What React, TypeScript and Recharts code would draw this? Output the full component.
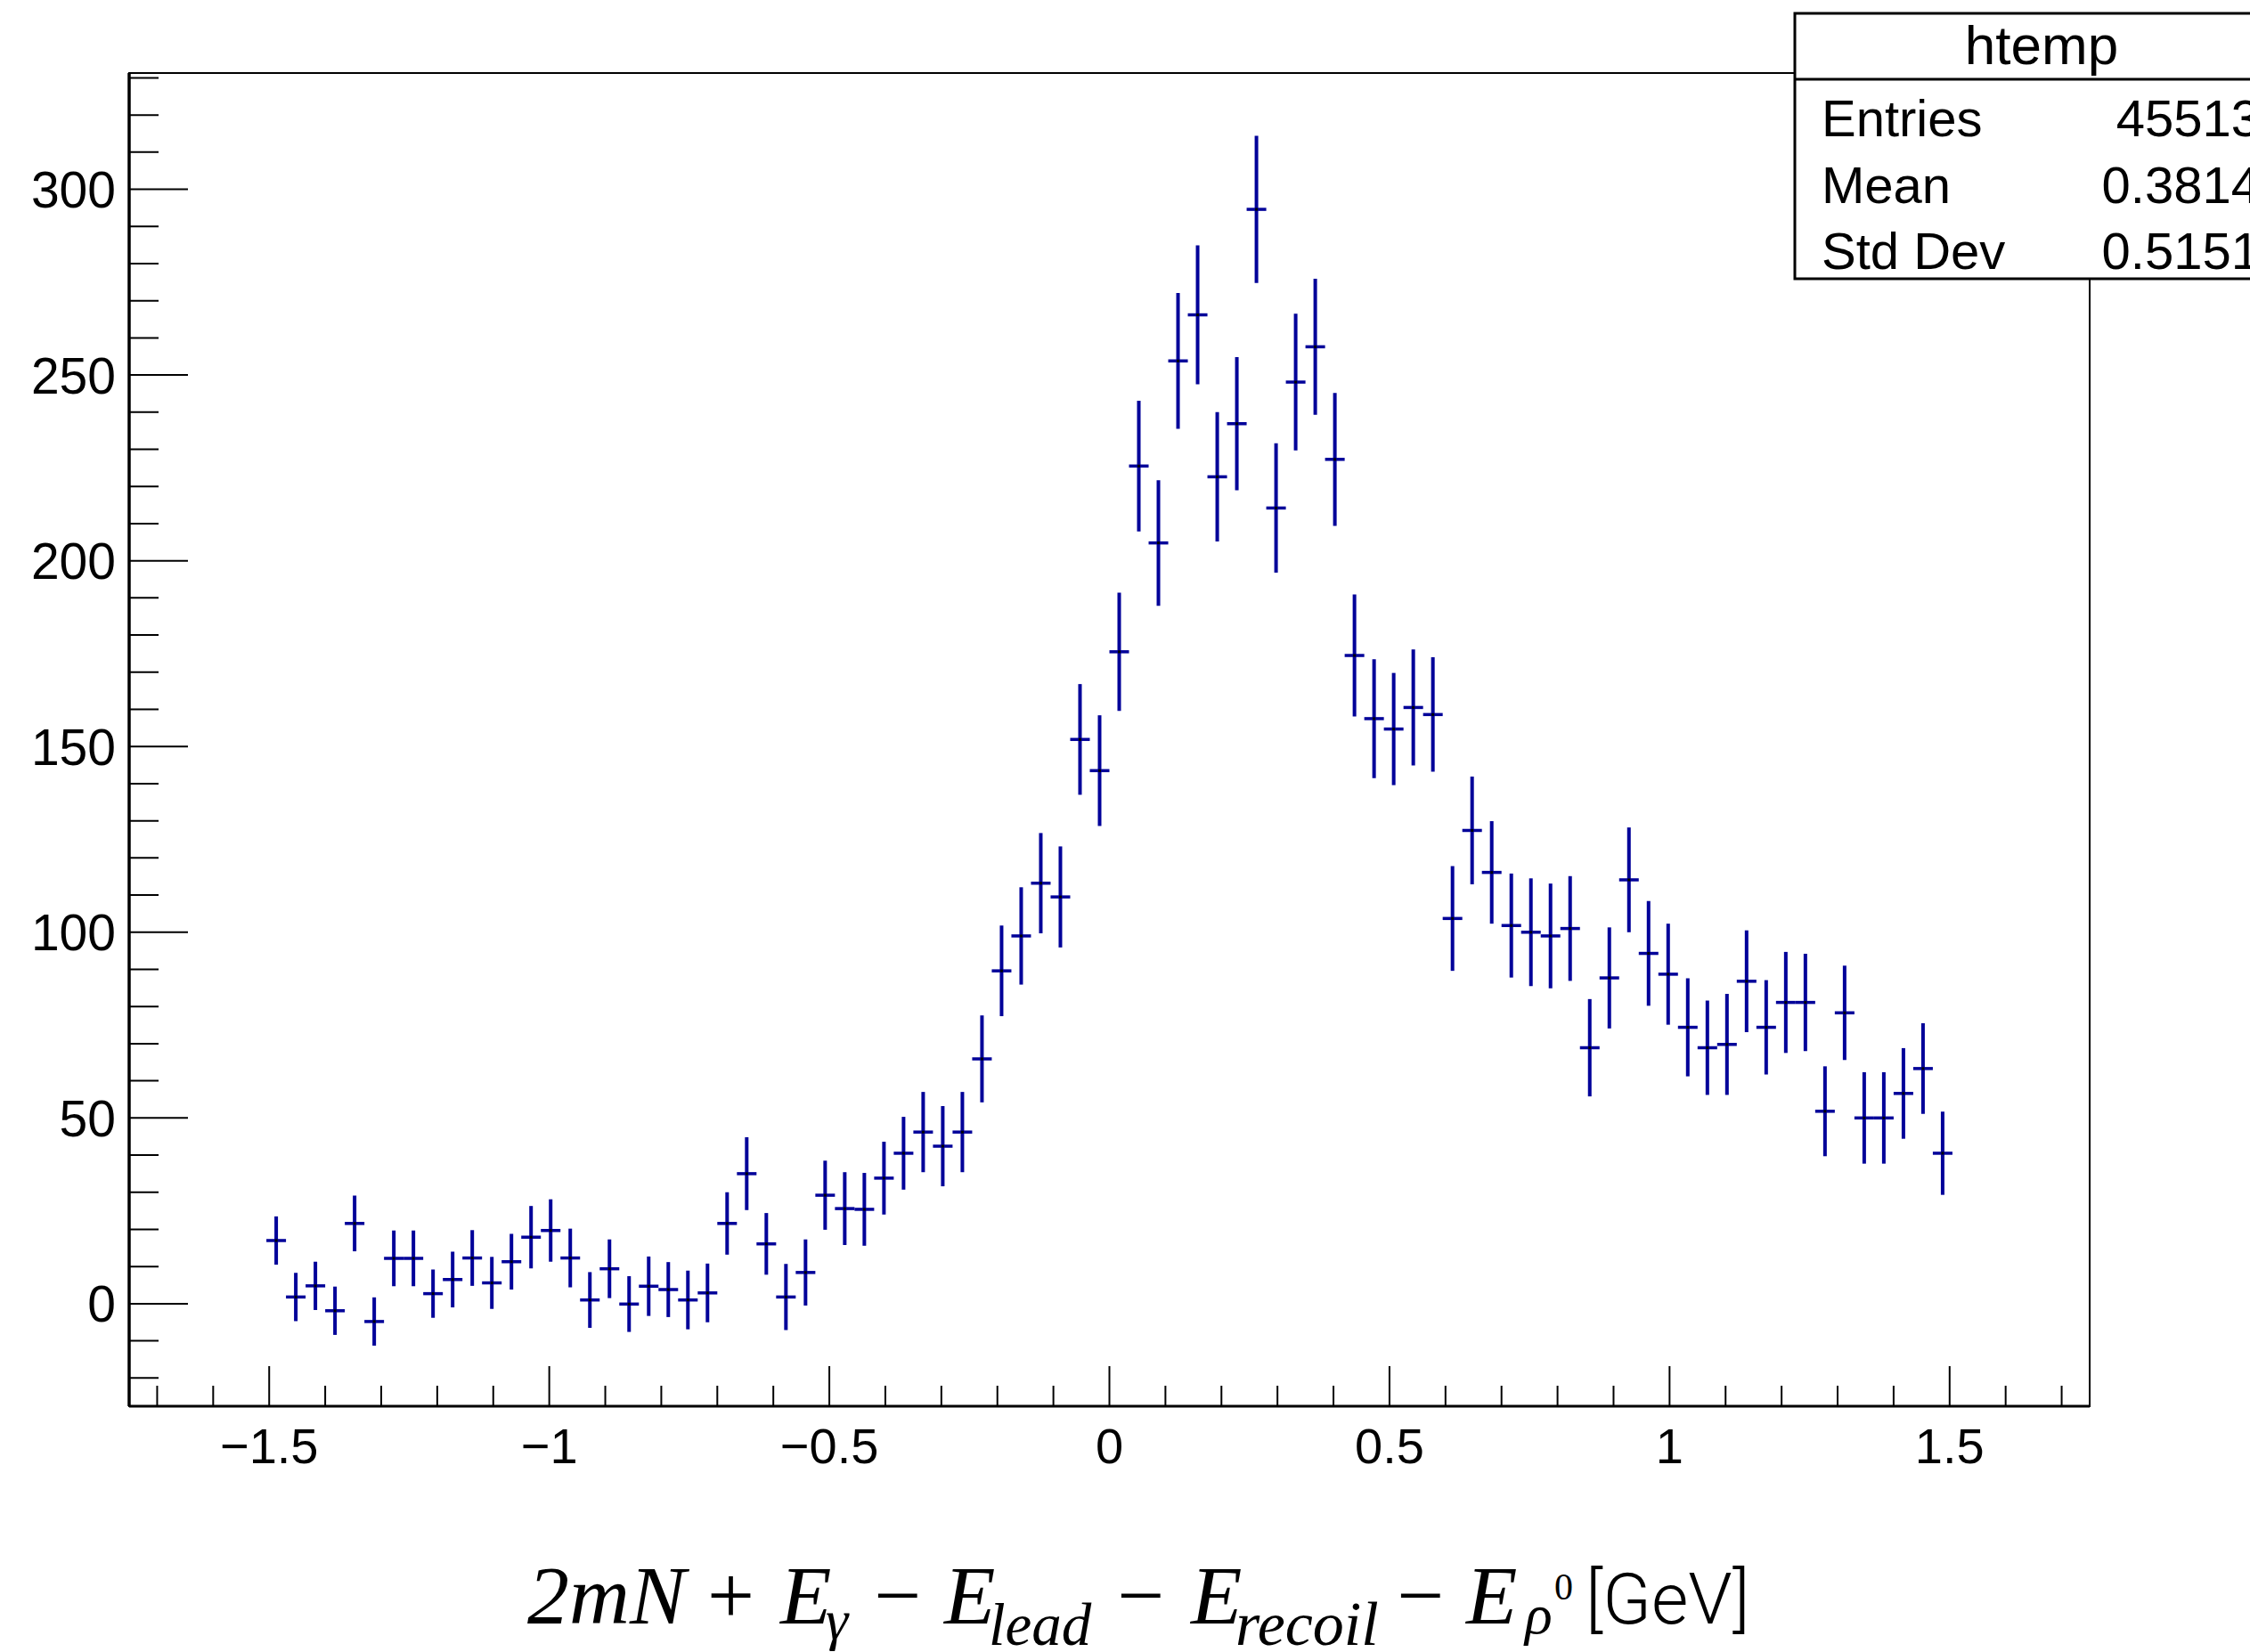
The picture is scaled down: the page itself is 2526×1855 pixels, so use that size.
import React from "react";
import { ErrorBar, ReferenceArea, Scatter, ScatterChart, XAxis, YAxis } from "recharts";

// histogram "htemp": 100 bins over [-1.75, 1.75], only filled bins are drawn
const binCenters = [
  -1.4875, -1.4525, -1.4175, -1.3825, -1.3475, -1.3125, -1.2775, -1.2425, -1.2075, -1.1725,
  -1.1375, -1.1025, -1.0675, -1.0325, -0.9975, -0.9625, -0.9275, -0.8925, -0.8575, -0.8225,
  -0.7875, -0.7525, -0.7175, -0.6825, -0.6475, -0.6125, -0.5775, -0.5425, -0.5075, -0.4725,
  -0.4375, -0.4025, -0.3675, -0.3325, -0.2975, -0.2625, -0.2275, -0.1925, -0.1575, -0.1225,
  -0.0875, -0.0525, -0.0175, 0.0175, 0.0525, 0.0875, 0.1225, 0.1575, 0.1925, 0.2275,
  0.2625, 0.2975, 0.3325, 0.3675, 0.4025, 0.4375, 0.4725, 0.5075, 0.5425, 0.5775,
  0.6125, 0.6475, 0.6825, 0.7175, 0.7525, 0.7875, 0.8225, 0.8575, 0.8925, 0.9275,
  0.9625, 0.9975, 1.0325, 1.0675, 1.1025, 1.1375, 1.1725, 1.2075, 1.2425, 1.2775,
  1.3125, 1.3475, 1.3825, 1.4175, 1.4525, 1.4875,
];

const counts = [
  17.0, 1.8, 4.8, -1.9, 21.6, -4.8, 12.2, 12.2, 2.7, 6.5,
  12.3, 5.6, 11.3, 17.9, 19.7, 12.3, 1.0, 9.4, -0.1, 4.7,
  3.8, 1.0, 2.9, 21.6, 35.0, 16.1, 1.8, 8.4, 29.2, 25.6,
  25.4, 33.8, 40.5, 46.2, 42.4, 46.2, 65.9, 89.6, 99.0, 113.2,
  109.5, 151.9, 143.5, 175.5, 225.5, 204.8, 253.8, 266.2, 222.6, 236.9,
  294.6, 214.2, 248.1, 257.6, 227.3, 174.5, 157.5, 154.7, 160.5, 158.6,
  103.7, 127.4, 116.1, 101.8, 100.0, 99.0, 101.0, 68.9, 87.7, 114.1,
  94.3, 88.7, 74.4, 68.9, 69.8, 86.8, 74.4, 81.1, 81.1, 51.8,
  78.3, 50.0, 50.0, 56.6, 63.3, 40.5,
];

const errors = [
  6.5, 6.5, 6.5, 6.5, 7.5, 6.5, 7.5, 7.5, 6.5, 7.5,
  7.5, 7.0, 7.5, 8.4, 8.4, 7.9, 7.5, 7.9, 7.5, 8.0,
  7.4, 7.9, 7.9, 8.4, 9.8, 8.3, 8.9, 8.9, 9.3, 9.8,
  9.8, 9.8, 9.8, 10.8, 10.8, 10.8, 11.7, 12.2, 13.1, 13.5,
  13.6, 14.9, 14.9, 15.9, 17.6, 16.9, 18.3, 18.7, 17.4, 17.9,
  19.8, 17.4, 18.4, 18.3, 17.9, 16.4, 16.0, 15.1, 15.6, 15.4,
  14.1, 14.5, 13.8, 14.0, 14.5, 14.1, 14.1, 13.1, 13.6, 14.1,
  14.1, 13.6, 13.2, 12.7, 13.6, 13.7, 12.7, 13.6, 13.1, 12.1,
  12.7, 12.3, 12.3, 12.2, 12.2, 11.2,
];

const binHalfWidth = 0.0175;

const xTicks = [
  -1.7, -1.6, -1.5, -1.4, -1.3, -1.2, -1.1, -1.0, -0.9, -0.8, -0.7, -0.6, -0.5, -0.4, -0.3,
  -0.2, -0.1, 0, 0.1, 0.2, 0.3, 0.4, 0.5, 0.6, 0.7, 0.8, 0.9, 1.0, 1.1, 1.2, 1.3, 1.4, 1.5,
  1.6, 1.7,
];
const yTicks = [
  -20, -10, 0, 10, 20, 30, 40, 50, 60, 70, 80, 90, 100, 110, 120, 130, 140, 150, 160, 170,
  180, 190, 200, 210, 220, 230, 240, 250, 260, 270, 280, 290, 300, 310, 320, 330,
];

const statsTitle = "htemp";
const statsLabels = ["Entries", "Mean", "Std Dev"];
const statsValues = ["45513", "0.3814", "0.5151"];

const xDomain: [number, number] = [-1.75, 1.75];
const yDomain: [number, number] = [-27.6, 331.3];

const W = 2526;
const H = 1855;
const sans = "'Liberation Sans', Arial, Helvetica, sans-serif";
const serif = "'Liberation Serif', 'Times New Roman', Times, serif";
const blue = "#000099";

const points = binCenters.map((x, i) => ({ x, y: counts[i], ey: errors[i], ex: binHalfWidth }));

function YTick(props: any) {
  const { x, y, payload } = props;
  const v = payload.value as number;
  const major = Math.abs(v / 50 - Math.round(v / 50)) < 1e-6;
  return (
    <g>
      <line x1={x} x2={x + (major ? 66 : 33)} y1={y} y2={y} stroke="#000" strokeWidth={2} />
      {major && (
        <text x={x - 15} y={y} dy="0.36em" textAnchor="end" fontFamily={sans} fontSize={57} fill="#000">
          {v}
        </text>
      )}
    </g>
  );
}

function XTick(props: any) {
  const { x, y, payload } = props;
  const v = payload.value as number;
  const major = Math.abs(v * 2 - Math.round(v * 2)) < 1e-6;
  const label = v < 0 ? `\u2212${Math.abs(v)}` : `${v}`;
  return (
    <g>
      <line x1={x} x2={x} y1={y} y2={y - (major ? 45 : 23)} stroke="#000" strokeWidth={2} />
      {major && (
        <text x={x} y={y + 64} textAnchor="middle" fontFamily={sans} fontSize={56} fill="#000">
          {label}
        </text>
      )}
    </g>
  );
}

const Marker = (p: any) => <rect x={p.cx - 1.5} y={p.cy - 1.5} width={3} height={3} fill="#000" />;

export default function App() {
  return (
    <div style={{ position: "absolute", left: 0, top: 0, width: W, height: H, background: "#fff" }}>
      <ScatterChart width={W} height={H} margin={{ top: 82, right: 180, bottom: 0, left: 0 }}>
        <ReferenceArea
          x1={xDomain[0]}
          x2={xDomain[1]}
          y1={yDomain[0]}
          y2={yDomain[1]}
          fill="none"
          fillOpacity={0}
          stroke="#000"
          strokeWidth={2}
        />
        <XAxis
          type="number"
          dataKey="x"
          domain={xDomain}
          allowDataOverflow
          ticks={xTicks}
          interval={0}
          height={276}
          tickSize={0}
          tickMargin={0}
          tickLine={false}
          axisLine={{ stroke: "#000", strokeWidth: 3 }}
          tick={<XTick />}
        />
        <YAxis
          type="number"
          dataKey="y"
          domain={yDomain}
          allowDataOverflow
          ticks={yTicks}
          interval={0}
          width={145}
          tickSize={0}
          tickMargin={0}
          tickLine={false}
          axisLine={{ stroke: "#000", strokeWidth: 3.5 }}
          tick={<YTick />}
        />
        <Scatter data={points} dataKey="y" shape={Marker} isAnimationActive={false}>
          <ErrorBar dataKey="ey" direction="y" width={0} stroke={blue} strokeWidth={4} isAnimationActive={false} />
          <ErrorBar dataKey="ex" direction="x" width={0} stroke={blue} strokeWidth={3.5} isAnimationActive={false} />
        </Scatter>
      </ScatterChart>

      <svg
        width={W}
        height={H}
        style={{ position: "absolute", left: 0, top: 0, pointerEvents: "none" }}
      >
        {/* stats box */}
        <rect x={2015} y={15} width={560} height={298} fill="#fff" stroke="#000" strokeWidth={3} />
        <line x1={2015} x2={W} y1={89} y2={89} stroke="#000" strokeWidth={3} />
        <text x={2292} y={72} textAnchor="middle" fontFamily={sans} fontSize={62} fill="#000">
          {statsTitle}
        </text>
        {statsLabels.map((l, i) => (
          <text key={l} x={2045} y={153 + i * 74.5} fontFamily={sans} fontSize={58} fill="#000">
            {l}
          </text>
        ))}
        {statsValues.map((v, i) => (
          <text key={v} x={2537} y={153 + i * 74.5} textAnchor="end" fontFamily={sans} fontSize={58} fill="#000">
            {v}
          </text>
        ))}

        {/* x axis title */}
        <g fontFamily={serif} fill="#000">
          <text x={592} y={1823} fontSize={94} fontStyle="italic">2mN</text>
          <text x={794} y={1823} fontSize={94}>+</text>
          <text x={876} y={1823} fontSize={94} fontStyle="italic">E</text>
          <text x={927} y={1840} fontSize={64} fontStyle="italic">γ</text>
          <text x={981} y={1823} fontSize={94}>−</text>
          <text x={1060} y={1823} fontSize={94} fontStyle="italic">E</text>
          <text x={1110} y={1847} fontSize={67} fontStyle="italic">lead</text>
          <text x={1254} y={1823} fontSize={94}>−</text>
          <text x={1337} y={1823} fontSize={94} fontStyle="italic">E</text>
          <text x={1387} y={1847} fontSize={70} fontStyle="italic">recoil</text>
          <text x={1568} y={1823} fontSize={94}>−</text>
          <text x={1646} y={1823} fontSize={94} fontStyle="italic">E</text>
          <text x={1712} y={1834} fontSize={64} fontStyle="italic">ρ</text>
          <text x={1745} y={1796} fontSize={42}>0</text>
        </g>
        <text x={1780} y={1823} fontFamily="Roboto, 'Liberation Sans', Arial, sans-serif" fontWeight={300} fontSize={80} fill="#000">
          [GeV]
        </text>
      </svg>
    </div>
  );
}
